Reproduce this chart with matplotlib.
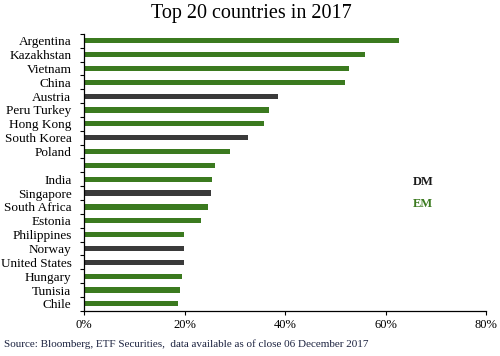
import numpy as np
import matplotlib.pyplot as plt

# data
countries = ["Argentina", "Kazakhstan", "Vietnam", "China", "Austria",
             "Peru Turkey", "Hong Kong", "South Korea", "Poland", "",
             "India", "Singapore", "South Africa", "Estonia", "Philippines",
             "Norway", "United States", "Hungary", "Tunisia", "Chile"]
returns = [62.7, 55.9, 52.7, 52.0, 38.6, 36.8, 35.8, 32.6, 29.1, 26.1,
           25.5, 25.3, 24.7, 23.3, 19.9, 19.9, 19.9, 19.6, 19.2, 18.8]
market = ["EM", "EM", "EM", "EM", "DM", "EM", "EM", "DM", "EM", "EM",
          "EM", "DM", "EM", "EM", "EM", "DM", "DM", "EM", "EM", "EM"]

green = "#3b7a1f"
dark = "#3a3a3a"
colors = [dark if m == "DM" else green for m in market]

plt.rcParams['font.family'] = ['Liberation Serif', 'DejaVu Serif']

fig = plt.figure(figsize=(5, 3.56), dpi=100)
ax = fig.add_axes([0.168, 0.127, 0.804, 0.778])

y = np.arange(len(countries))
ax.barh(y, returns, height=0.38, color=colors)

ax.set_ylim(len(countries) - 0.5, -0.5)
ax.set_xlim(0, 80)
ax.set_xticks([0, 20, 40, 60, 80])
ax.set_xticklabels(["0%", "20%", "40%", "60%", "80%"], fontsize=9)
ax.set_yticks(y)
ax.set_yticklabels(countries, fontsize=9.5)
ax.set_yticks(np.arange(-0.5, len(countries), 1), minor=True)
ax.tick_params(axis='y', which='major', length=0, pad=9)
ax.tick_params(axis='y', which='minor', length=3, width=0.8)
ax.tick_params(axis='x', length=3, width=0.8, pad=3)

for s in ['top', 'right']:
    ax.spines[s].set_visible(False)
ax.spines['left'].set_linewidth(0.9)
ax.spines['bottom'].set_linewidth(0.9)

fig.text(0.846, 0.489, "DM", color="#1a1a1a", fontsize=9, fontweight='bold', ha='center', va='center')
fig.text(0.846, 0.427, "EM", color=green, fontsize=9, fontweight='bold', ha='center', va='center')

fig.text(0.503, 0.963, "Top 20 countries in 2017", fontsize=14.5, ha='center', va='center')
fig.text(0.008, 0.032, "Source: Bloomberg, ETF Securities,  data available as of close 06 December 2017",
         fontsize=8, color="#1c2340", ha='left', va='center')

fig.savefig("out.png", dpi=100)
